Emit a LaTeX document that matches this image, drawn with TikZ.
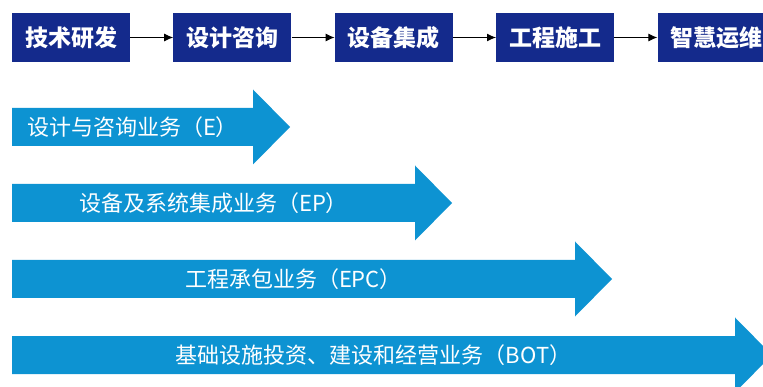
\documentclass[tikz,border=0pt]{standalone}
\usepackage{fontspec}
\setmainfont{Noto Sans CJK SC}
\usetikzlibrary{arrows.meta,positioning}
\definecolor{stagenavy}{RGB}{20,42,140}
\definecolor{bizblue}{RGB}{13,147,210}
\tikzset{
  stage/.style = {fill=stagenavy, text=white, inner sep=0pt,
                  minimum width=118pt, minimum height=49pt,
                  font=\fontsize{23}{27}\selectfont\bfseries},
  biz/.style   = {text=white, inner sep=0pt,
                  font=\fontsize{22}{26}\selectfont}
}

\begin{document}
\begin{tikzpicture}[
  x=1pt, y=-1pt,
  node distance=43pt,
  >={Latex[length=9pt,width=8pt]}]
\useasboundingbox (0,0) rectangle (763,387);

\node[stage] (s1) at (71,37.5) {技术研发};
\node[stage, right=of s1] (s2) {设计咨询};
\node[stage, right=of s2] (s3) {设备集成};
\node[stage, right=of s3] (s4) {工程施工};
\node[stage, right=of s4] (s5) {智慧运维};

\foreach \a/\b in {1/2,2/3,3/4,4/5}
  \draw[->, line width=1pt] (s\a) -- (s\b);

\foreach \tip/\txt [count=\i] in {290/{设计与咨询业务（E）},
    452/{设备及系统集成业务（EP）},
    612/{工程承包业务（EPC）},
    772/{基础设施投资、建设和经营业务（BOT）}}
{
  \pgfmathsetmacro{\yc}{127+76*(\i-1)}
  \pgfmathsetmacro{\hb}{\tip-37}
  \fill[bizblue] (12,\yc-19) -- (\hb,\yc-19) -- (\hb,\yc-37.5) -- (\tip,\yc)
    -- (\hb,\yc+37.5) -- (\hb,\yc+19) -- (12,\yc+19) -- cycle;
  \node[biz] (b\i) at ({(12+\hb)/2},\yc) {\txt};
}
\end{tikzpicture}
\end{document}
